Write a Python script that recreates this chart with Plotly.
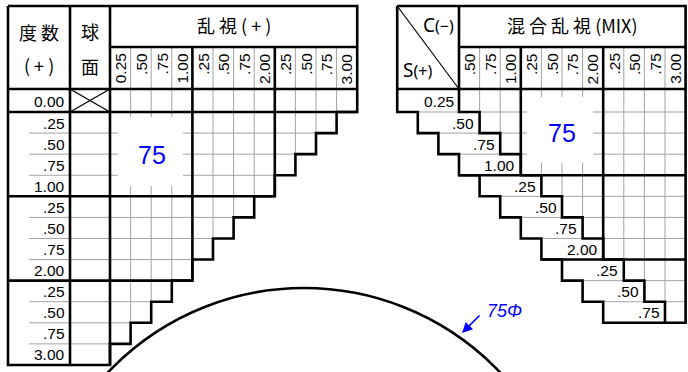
import plotly.graph_objects as go

# ---------------- data ----------------
# Left table: plus cylinder (乱視 +)
sph_labels = ["0.00", ".25", ".50", ".75", "1.00", ".25", ".50", ".75", "2.00", ".25", ".50", ".75", "3.00"]
sph_values = [0.00, 0.25, 0.50, 0.75, 1.00, 1.25, 1.50, 1.75, 2.00, 2.25, 2.50, 2.75, 3.00]
cyl_labels = ["0.25", ".50", ".75", "1.00", ".25", ".50", ".75", "2.00", ".25", ".50", ".75", "3.00"]
cyl_values = [0.25, 0.50, 0.75, 1.00, 1.25, 1.50, 1.75, 2.00, 2.25, 2.50, 2.75, 3.00]
max_total = 3.00          # sph + cyl limit of the plus table

# Right table: mixed astigmatism (混合乱視 MIX)
mix_s_labels = ["0.25", ".50", ".75", "1.00", ".25", ".50", ".75", "2.00", ".25", ".50", ".75"]
mix_s_values = [0.25, 0.50, 0.75, 1.00, 1.25, 1.50, 1.75, 2.00, 2.25, 2.50, 2.75]
mix_c_labels = [".50", ".75", "1.00", ".25", ".50", ".75", "2.00", ".25", ".50", ".75", "3.00"]
mix_c_values = [0.50, 0.75, 1.00, 1.25, 1.50, 1.75, 2.00, 2.25, 2.50, 2.75, 3.00]

diameter_text = "75"
diameter_note = "<i>75Φ</i>"

# ---------------- geometry ----------------
CW = 20.6
RH = 21.08
TOP, TITLE_B, HEAD_B = 6, 47, 89
BLUE = "#0000ff"
NUM_FONT = "Liberation Sans, Arial, sans-serif"
CJK_FONT = "Noto Sans CJK JP, sans-serif"


def Y(r):
    return HEAD_B if r == 0 else 112 + (r - 1) * RH


thin, thick = [], []


def add(lst, pts):
    lst.append(pts)


def is_int(v):
    return abs(v - round(v)) < 1e-9

# ---------- left table ----------
LX0, LX1, LX2 = 8, 70, 110
nL = len(cyl_values)
nR_L = len(sph_values)


def XC(c):
    return LX2 + c * CW


ncols = [sum(1 for c in cyl_values if s + c <= max_total + 1e-9) for s in sph_values]
YB = Y(nR_L)

for c in range(1, nL):
    last = max(r for r in range(nR_L) if ncols[r] >= c + 1)
    add(thin, [(XC(c), TITLE_B), (XC(c), Y(last + 1))])
for b in range(2, nR_L):
    add(thin, [(29, Y(b)), (XC(ncols[b]), Y(b))])

pts = [(LX0, TOP), (XC(nL), TOP), (XC(nL), Y(1))]
for r in range(1, nR_L):
    pts += [(XC(ncols[r]), Y(r)), (XC(ncols[r]), Y(r + 1))]
pts += [(LX0, Y(nR_L)), (LX0, TOP)]
add(thick, pts)
add(thick, [(LX1, TOP), (LX1, YB)])
add(thick, [(LX2, TOP), (LX2, YB)])
add(thick, [(LX2, TITLE_B), (XC(nL), TITLE_B)])
add(thick, [(LX0, HEAD_B), (XC(nL), HEAD_B)])
add(thick, [(LX0, Y(1)), (XC(nL), Y(1))])
for r in range(1, nR_L - 1):
    if is_int(sph_values[r]):
        add(thick, [(LX0, Y(r + 1)), (XC(ncols[r]), Y(r + 1))])
for c in range(1, nL):
    if is_int(cyl_values[c - 1]):
        last = max(r for r in range(nR_L) if ncols[r] >= c)
        add(thick, [(XC(c), TITLE_B), (XC(c), Y(last + 1))])

# ---------- right table ----------
RX0 = 459
nC = len(mix_c_values)
nS = len(mix_s_values)


def XR(i):
    return RX0 + i * CW


first = [sum(1 for c in mix_c_values if c <= s + 1e-9) for s in mix_s_values]
XL = [XR(f) for f in first]
LL = [x - 3 * CW for x in XL]
XE = XR(nC)

for i in range(1, nC):
    last = max(j for j in range(nS) if first[j] <= i - 1)
    add(thin, [(XR(i), TITLE_B), (XR(i), Y(last + 1))])
for j in range(nS - 1):
    add(thin, [(LL[j + 1], Y(j + 1)), (XE, Y(j + 1))])

pts = [(LL[0], TOP), (XE, TOP), (XE, Y(nS)), (LL[nS - 1], Y(nS))]
for j in range(nS - 1, -1, -1):
    pts.append((LL[j], Y(j)))
    if j > 0:
        pts.append((LL[j - 1], Y(j)))
pts.append((LL[0], TOP))
add(thick, pts)
pts = [(XR(0), TOP)]
for j in range(nS):
    pts += [(XL[j], Y(j)), (XL[j], Y(j + 1))]
add(thick, pts)
add(thick, [(XR(0), TITLE_B), (XE, TITLE_B)])
add(thick, [(LL[0], HEAD_B), (XE, HEAD_B)])
for i in range(1, nC):
    if is_int(mix_c_values[i - 1]):
        last = max(j for j in range(nS) if first[j] <= i)
        add(thick, [(XR(i), TITLE_B), (XR(i), Y(last + 1))])
for j in range(nS - 1):
    if is_int(mix_s_values[j]):
        add(thick, [(LL[j], Y(j + 1)), (XE, Y(j + 1))])


def to_xy(segs):
    xs, ys = [], []
    for s in segs:
        for x, y in s:
            xs.append(x)
            ys.append(y)
        xs.append(None)
        ys.append(None)
    return xs, ys


fig = go.Figure()
tx, ty = to_xy(thin)
fig.add_trace(go.Scatter(x=tx, y=ty, mode="lines", line=dict(color="#a3a3a3", width=1), hoverinfo="skip"))
fig.add_trace(go.Scatter(x=[LX1, LX2, None, LX1, LX2], y=[Y(0), Y(1), None, Y(1), Y(0)], mode="lines",
                         line=dict(color="black", width=1.3), hoverinfo="skip"))
fig.add_trace(go.Scatter(x=[LL[0], XR(0)], y=[TOP, HEAD_B], mode="lines",
                         line=dict(color="black", width=1.2), hoverinfo="skip"))
for (x0, y0, x1, y1) in [(118, 117, 183, 186), (527, 97, 593, 163)]:
    fig.add_trace(go.Scatter(x=[x0, x1, x1, x0, x0], y=[y0, y0, y1, y1, y0], mode="lines", fill="toself",
                             fillcolor="white", line=dict(width=0, color="white"), hoverinfo="skip"))
kx, ky = to_xy(thick)
fig.add_trace(go.Scatter(x=kx, y=ky, mode="lines", line=dict(color="black", width=2.6), hoverinfo="skip"))

CXc, CYc, RAD = 304, 558, 270
fig.add_shape(type="circle", xref="x", yref="y", x0=CXc - RAD, x1=CXc + RAD, y0=CYc - RAD, y1=CYc + RAD,
              line=dict(color="black", width=2.6))

ann = []


def T(x, y, text, size=15.5, family=NUM_FONT, xa="center", ya="middle", angle=0, color="black"):
    ann.append(dict(x=x, y=y, text=text, showarrow=False, xref="x", yref="y", xanchor=xa, yanchor=ya,
                    textangle=angle, font=dict(size=size, family=family, color=color)))


T(39, 32, "度 数", 18, CJK_FONT)
T(39, 65, "( + )", 18, CJK_FONT)
T(90, 31, "球", 18, CJK_FONT)
T(90, 66, "面", 18, CJK_FONT)
T((LX2 + XC(nL)) / 2, 25, "乱 視 ( + )", 18, CJK_FONT)
for c, lab in enumerate(cyl_labels):
    T(XC(c) + CW / 2, 51, lab, 15.5, NUM_FONT, "center", "top", -90)
for r, lab in enumerate(sph_labels):
    T(LX1 - 3.5, (Y(r) + Y(r + 1)) / 2 + 0.5, lab, 15.5, NUM_FONT, "right")

T((XR(0) + XE) / 2, 25, "混 合 乱 視 (MIX)", 18, CJK_FONT)
T(456, 25, "C<span style='font-size:16px'>(−)</span>", 19, "Noto Sans, sans-serif", "right")
T(401, 70, "S<span style='font-size:16px'>(+)</span>", 19, "Noto Sans, sans-serif", "left")
for i, lab in enumerate(mix_c_labels):
    T(XR(i) + CW / 2, 51, lab, 15.5, NUM_FONT, "center", "top", -90)
for j, lab in enumerate(mix_s_labels):
    T(XL[j] - 3.5, (Y(j) + Y(j + 1)) / 2 + 0.5, lab, 15.5, NUM_FONT, "right")

T(151.5, 155, diameter_text, 25, NUM_FONT, color=BLUE)
T(561.5, 133, diameter_text, 25, NUM_FONT, color=BLUE)
T(485, 311, diameter_note, 18, NUM_FONT, "left", color=BLUE)
ann.append(dict(x=462, y=333, ax=481, ay=314, xref="x", yref="y", axref="x", ayref="y", text="",
                showarrow=True, arrowhead=2, arrowsize=1.3, arrowwidth=1.6, arrowcolor=BLUE))

fig.update_layout(
    width=688, height=372, margin=dict(l=0, r=0, t=0, b=0),
    xaxis=dict(range=[0, 688], visible=False, fixedrange=True),
    yaxis=dict(range=[372, 0], visible=False, fixedrange=True),
    plot_bgcolor="white", paper_bgcolor="white", showlegend=False,
    annotations=ann, font=dict(color="black"),
)
fig.write_html("out.html", config={"displayModeBar": False},
               post_script="document.body.style.margin='0';document.body.style.overflow='hidden';")
